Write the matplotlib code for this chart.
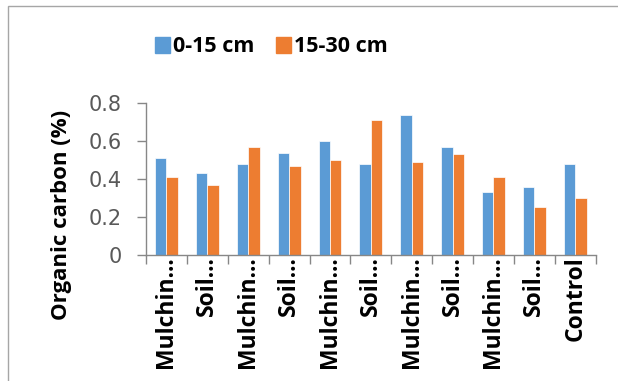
import matplotlib
matplotlib.use("Agg")
import matplotlib.pyplot as plt
from matplotlib.patches import Rectangle, Patch
import numpy as np

categories = ["Mulchin...", "Soil...", "Mulchin...", "Soil...", "Mulchin...", "Soil...",
              "Mulchin...", "Soil...", "Mulchin...", "Soil...", "Control"]
depth_0_15 = [0.51, 0.43, 0.48, 0.54, 0.60, 0.48, 0.74, 0.57, 0.33, 0.36, 0.48]
depth_15_30 = [0.41, 0.37, 0.57, 0.47, 0.50, 0.71, 0.49, 0.53, 0.41, 0.25, 0.30]
y_ticks = [0, 0.2, 0.4, 0.6, 0.8]
y_tick_labels = ["0", "0.2", "0.4", "0.6", "0.8"]
series_names = ["0-15 cm", "15-30 cm"]

blue = "#5B9BD5"
orange = "#ED7D31"
axis_grey = "#878787"
label_font = "Open Sans"

fig = plt.figure(figsize=(6.18, 3.81), dpi=100)
fig.patch.set_facecolor("white")

# chart area border (only top and left edges fall inside the canvas)
fig.add_artist(Rectangle((8 / 618, -0.2), 1.2, 1 - 6 / 381 + 0.2,
                         transform=fig.transFigure, fill=False,
                         edgecolor="#A6A6A6", linewidth=1.0))

ax = fig.add_axes([146 / 618, 1 - 254.7 / 381, (595.7 - 146) / 618, (254.7 - 103.3) / 381])

x = np.arange(len(categories))
w = 0.28
ax.bar(x - w / 2, depth_0_15, width=w, color=blue, edgecolor="white", linewidth=0.5)
ax.bar(x + w / 2, depth_15_30, width=w, color=orange, edgecolor="white", linewidth=0.5)

ax.set_xlim(-0.5, len(categories) - 0.5)
ax.set_ylim(0, 0.8)

for side in ["top", "right"]:
    ax.spines[side].set_visible(False)
for side in ["left", "bottom"]:
    ax.spines[side].set_color(axis_grey)
    ax.spines[side].set_linewidth(1.0)

ax.set_yticks(y_ticks)
ax.set_yticklabels(y_tick_labels, fontfamily="DejaVu Sans", fontsize=15, color="#595959")
ax.tick_params(axis="y", direction="out", length=6.5, width=1.0, color=axis_grey, pad=11)

# category boundaries carry the tick marks, centres carry the labels
ax.set_xticks(np.arange(-0.5, len(categories)), labels=[""] * (len(categories) + 1))
ax.tick_params(axis="x", which="major", direction="out", length=6.5, width=1.0, color=axis_grey)
ax.set_xticks(x, minor=True)
ax.set_xticklabels(categories, minor=True, rotation=90, fontfamily=label_font,
                   fontweight="bold", fontsize=16.5, color="black")
ax.tick_params(axis="x", which="minor", length=0, pad=1)

fig.text(62 / 618, 1 - 214.5 / 381, "Organic carbon (%)", rotation=90, ha="center", va="center",
         fontfamily=label_font, fontweight="bold", fontsize=16, color="black")

handles = [Patch(facecolor=blue, edgecolor=blue), Patch(facecolor=orange, edgecolor=orange)]
fig.legend(handles, series_names, loc="center", bbox_to_anchor=(271.5 / 618, 1 - 47 / 381),
           ncol=2, frameon=False, handlelength=0.7, handleheight=0.8, handletextpad=0.15,
           columnspacing=1.0, borderpad=0,
           prop={"family": label_font, "weight": "bold", "size": 15.5})

fig.savefig("out.png", dpi=100, facecolor="white")
